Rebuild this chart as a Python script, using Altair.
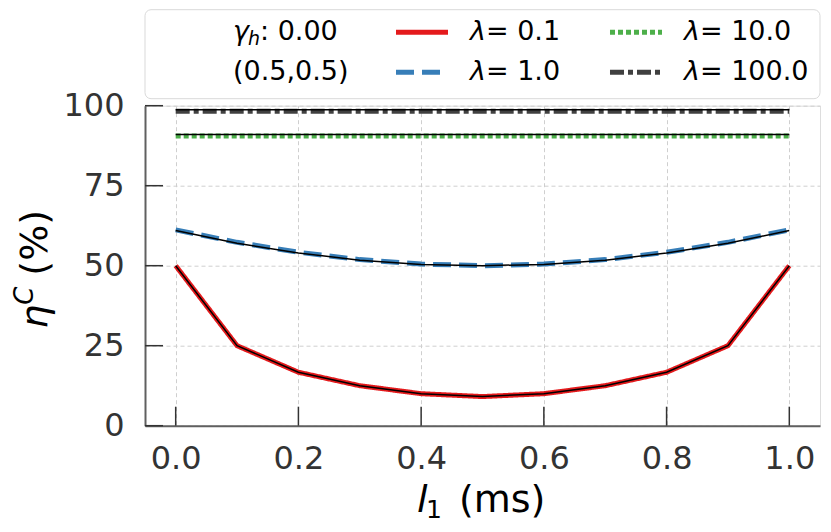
import altair as alt
import pandas as pd

# ---- data ----
l1_ms = [0.0, 0.1, 0.2, 0.3, 0.4, 0.5, 0.6, 0.7, 0.8, 0.9, 1.0]
eta_lam_0_1 = [50.0, 25.0, 16.7, 12.5, 10.0, 9.1, 10.0, 12.5, 16.7, 25.0, 50.0]
eta_lam_1_0 = [61.2, 57.3, 54.2, 51.9, 50.5, 50.0, 50.5, 51.9, 54.2, 57.3, 61.2]
eta_lam_10_0 = [90.5, 90.5, 90.5, 90.5, 90.5, 90.5, 90.5, 90.5, 90.5, 90.5, 90.5]
eta_lam_100_0 = [98.3, 98.3, 98.3, 98.3, 98.3, 98.3, 98.3, 98.3, 98.3, 98.3, 98.3]
# thin black reference curves
ref_lam_0_1 = [50.0, 25.0, 16.7, 12.5, 10.0, 9.1, 10.0, 12.5, 16.7, 25.0, 50.0]
ref_lam_1_0 = [61.0, 57.0, 54.0, 51.7, 50.4, 50.0, 50.4, 51.7, 54.0, 57.0, 61.0]
ref_lam_10_0 = [91.0, 91.0, 91.0, 91.0, 91.0, 91.0, 91.0, 91.0, 91.0, 91.0, 91.0]
ref_lam_100_0 = [98.7, 98.7, 98.7, 98.7, 98.7, 98.7, 98.7, 98.7, 98.7, 98.7, 98.7]

series_names = ["λ= 0.1", "λ= 1.0", "λ= 10.0", "λ= 100.0"]
series_values = ["= 0.1", "= 1.0", "= 10.0", "= 100.0"]
series_colors = ["#e41a1c", "#377eb8", "#4daf4a", "#404040"]
series_dashes = [[1, 0], [18, 8], [5, 3], [14, 4, 5, 4]]

x_ticks = [0.0, 0.2, 0.4, 0.6, 0.8, 1.0]
y_ticks = [0, 25, 50, 75, 100]

FONT = "DejaVu Sans"
W, H = 675, 320

rows = []
for name, vals in zip(series_names, [eta_lam_0_1, eta_lam_1_0, eta_lam_10_0, eta_lam_100_0]):
    for x, v in zip(l1_ms, vals):
        rows.append({"l1": x, "eta": v, "series": name})
df = pd.DataFrame(rows)

ref_rows = []
for name, vals in zip(series_names, [ref_lam_0_1, ref_lam_1_0, ref_lam_10_0, ref_lam_100_0]):
    for x, v in zip(l1_ms, vals):
        ref_rows.append({"l1": x, "eta": v, "series": name})
df_ref = pd.DataFrame(ref_rows)

xscale = alt.Scale(domain=[-0.05, 1.05], nice=False, zero=False)
yscale = alt.Scale(domain=[0, 100], nice=False)

xaxis = alt.Axis(values=x_ticks, format=".1f", title=None, ticks=False, tickSize=0,
                 labelFontSize=32, labelPadding=18, labelColor="#333333", labelFont=FONT,
                 grid=True, gridDash=[4, 3], gridColor="#cfcfcf", gridWidth=1,
                 domainColor="#606060", domainWidth=2)
yaxis = alt.Axis(values=y_ticks, title=None, ticks=False, tickSize=0,
                 labelFontSize=32, labelPadding=21, labelColor="#333333", labelFont=FONT,
                 grid=True, gridDash=[4, 3], gridColor="#cfcfcf", gridWidth=1,
                 domainColor="#606060", domainWidth=2)

lines = alt.Chart(df).mark_line(strokeWidth=5, clip=True).encode(
    x=alt.X("l1:Q", scale=xscale, axis=xaxis),
    y=alt.Y("eta:Q", scale=yscale, axis=yaxis),
    color=alt.Color("series:N", scale=alt.Scale(domain=series_names, range=series_colors), legend=None),
    strokeDash=alt.StrokeDash("series:N", scale=alt.Scale(domain=series_names, range=series_dashes), legend=None),
)

ref_lines = alt.Chart(df_ref).mark_line(strokeWidth=1.5, color="black", clip=True).encode(
    x="l1:Q", y="eta:Q", detail="series:N"
)

# inward ticks
xt = alt.Chart(pd.DataFrame({"t": x_ticks})).mark_rule(color="#333333", strokeWidth=1.5).encode(
    x="t:Q", y=alt.value(H), y2=alt.value(H - 19)
)
yt = alt.Chart(pd.DataFrame({"t": y_ticks})).mark_rule(color="#333333", strokeWidth=1.5).encode(
    y="t:Q", x=alt.value(0), x2=alt.value(18)
)

one = pd.DataFrame({"a": [0]})


def txt(text, x, y, size, italic=False, angle=None, baseline="middle"):
    kw = dict(text=text, font=FONT, fontSize=size, align="left", baseline=baseline, color="black")
    if italic:
        kw["fontStyle"] = "italic"
    if angle is not None:
        kw["angle"] = angle
    return alt.Chart(one).mark_text(**kw).encode(x=alt.value(x), y=alt.value(y))


# legend box
leg_box = alt.Chart(one).mark_rect(fill="white", stroke="#d9d9d9", strokeWidth=1, cornerRadius=6).encode(
    x=alt.value(0), x2=alt.value(W), y=alt.value(-96), y2=alt.value(-7)
)
LEG_F = 27
row1, row2 = -73.5, -33.5
leg_layers = [leg_box]
sample_pos = [(251, row1), (251, row2), (465, row1), (465, row2)]
for (sx, sy), val, col, dash in zip(sample_pos, series_values, series_colors, series_dashes):
    leg_layers.append(
        alt.Chart(one).mark_rule(color=col, strokeWidth=5, strokeDash=dash).encode(
            x=alt.value(sx), x2=alt.value(sx + 52), y=alt.value(sy)
        )
    )
    leg_layers.append(txt("λ", sx + 74, sy, LEG_F, italic=True))
    leg_layers.append(txt(val, sx + 90, sy, LEG_F))
# gamma_h text
leg_layers.append(txt("γ", 88, row1, LEG_F, italic=True))
leg_layers.append(txt("h", 103, row1 + 7, 19, italic=True))
leg_layers.append(txt(": 0.00", 115, row1, LEG_F))
leg_layers.append(txt("(0.5,0.5)", 88, row2, LEG_F))

# axis titles
TF = 38
titles = [
    txt("l", 272, 406, TF, italic=True, baseline="alphabetic"),
    txt("1", 281, 412, 25, baseline="alphabetic"),
    txt("(ms)", 314, 406, TF, baseline="alphabetic"),
    txt("η", -98, 223, TF, italic=True, angle=270, baseline="alphabetic"),
    txt("C", -112, 199, 26, italic=True, angle=270, baseline="alphabetic"),
    txt("(%)", -98, 170, TF, angle=270, baseline="alphabetic"),
]

chart = alt.layer(lines, ref_lines, xt, yt, *leg_layers, *titles).properties(
    width=W, height=H,
    autosize=alt.AutoSizeParams(type="none"),
    padding={"left": 137, "top": 97.7, "right": 3, "bottom": 100},
).configure_view(strokeWidth=0).configure(background="white")

chart.save("out.html", embed_options={"renderer": "svg", "actions": False})
